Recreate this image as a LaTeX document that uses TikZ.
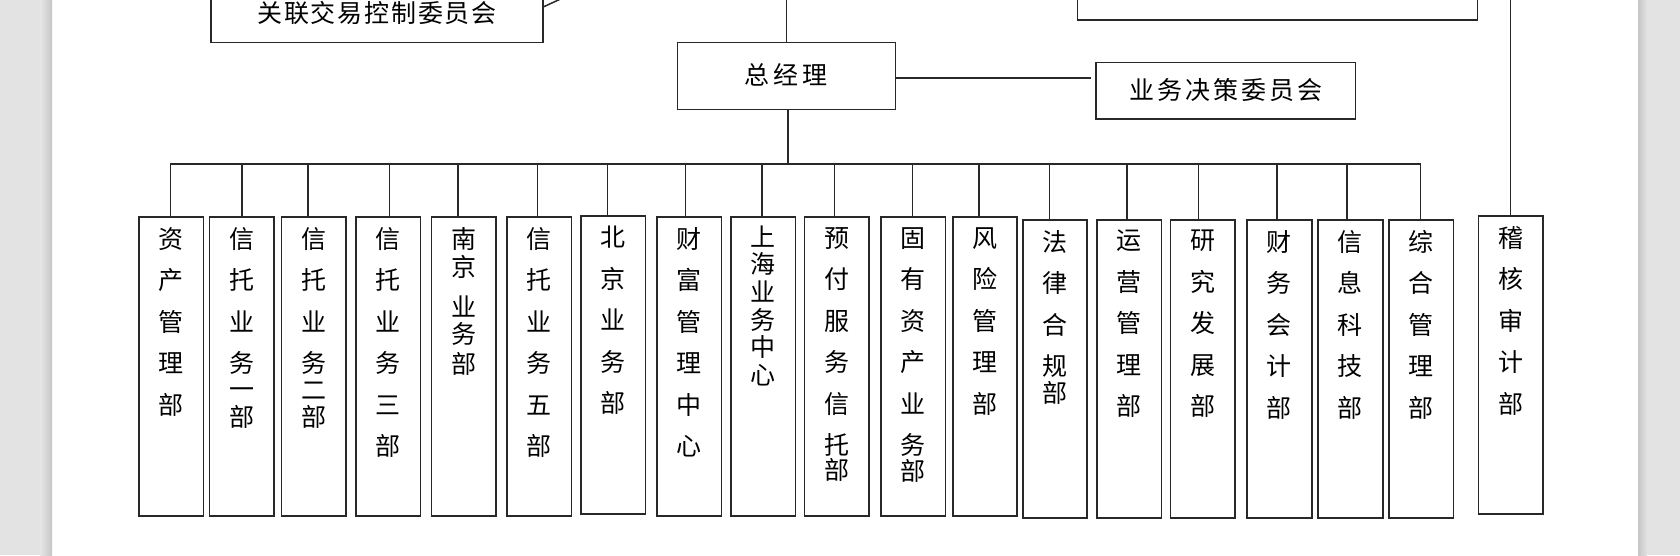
\documentclass[tikz,border=0pt]{standalone}
\usepackage{fontspec}
\newfontfamily\cjk{Noto Sans CJK SC}
\usetikzlibrary{calc}
\definecolor{linec}{RGB}{40,40,40}
\definecolor{pagegray}{RGB}{227,227,227}
\definecolor{shadowgray}{RGB}{198,198,198}
\newcommand\hs{\hspace{1.8pt}}
\begin{document}
\begin{tikzpicture}[x=1pt,y=-1pt,
  bx/.style={draw=linec, line width=1.6pt, inner sep=0pt},
  ln/.style={draw=linec, line width=1.5pt},
  vt/.style={font=\cjk\fontsize{25}{41.5}\selectfont, align=center, inner sep=0pt, anchor=north},
  ht/.style={font=\cjk\fontsize{25}{28}\selectfont, inner sep=0pt},
  dep/.style={bx, minimum width=64.5pt, minimum height=299pt}]
\useasboundingbox (0,0) rectangle (1680,555);
\clip (0,0) rectangle (1680,555);
\fill[white] (0,0) rectangle (1680,555);
% page margins
\fill[pagegray] (0,0) rectangle (40,555);
\shade[left color=pagegray!90!white, right color=shadowgray] (40,0) rectangle (52,555);
\fill[pagegray] (1646,0) rectangle (1680,555);
\shade[left color=shadowgray, right color=pagegray] (1638,0) rectangle (1647,555);

% top boxes
\node[bx, minimum width=332pt, minimum height=58.3pt, ht] (gl) at (377,13.15) {关\hs 联\hs 交\hs 易\hs 控\hs 制\hs 委\hs 员\hs 会};
\node[bx, minimum width=400pt, minimum height=80pt] (tr) at (1277.4,-20.3) {};
\node[bx, minimum width=218.2pt, minimum height=67pt, ht] (zjl) at (786.4,75.8) {\raisebox{3pt}{总\hspace{4pt}经\hspace{4pt}理}};
\node[bx, minimum width=259.3pt, minimum height=56.7pt, ht] (ywjc) at (1225.85,90.65) {\raisebox{2.5pt}{业\hspace{3pt}务\hspace{3pt}决\hspace{3pt}策\hspace{3pt}委\hspace{3pt}员\hspace{3pt}会}};

% department boxes
\node[dep] (b1) at (171.1,366.5) {};
\node[dep] (b2) at (241.6,366.5) {};
\node[dep] (b3) at (313.9,366.5) {};
\node[dep] (b4) at (388.05,366.5) {};
\node[dep] (b5) at (463.55,366.5) {};
\node[dep] (b6) at (539.25,366.5) {};
\node[dep, minimum height=298pt] (b7) at (613.05,365) {};
\node[dep] (b8) at (689.25,366.5) {};
\node[dep] (b9) at (763.4,366.5) {};
\node[dep] (b10) at (836.75,366.5) {};
\node[dep] (b11) at (913.4,366.5) {};
\node[dep] (b12) at (985,366.5) {};
\node[dep, minimum height=298.3pt] (b13) at (1055,368.85) {};
\node[dep, minimum height=298.3pt] (b14) at (1129.1,368.85) {};
\node[dep, minimum height=298.3pt] (b15) at (1202.7,368.85) {};
\node[dep, minimum height=298.3pt] (b16) at (1279.45,368.85) {};
\node[dep, minimum height=298.3pt] (b17) at (1350.45,368.85) {};
\node[dep, minimum height=298.3pt] (b18) at (1421.1,368.85) {};
\node[dep, minimum height=298pt] (b19) at (1510.8,364.7) {};

% vertical texts
\node[vt] (t1) at ([yshift=-11pt]b1.north) {资\\产\\管\\理\\部};
\node[vt] (t2) at ([yshift=-11pt]b2.north) {信\\托\\业\\务\\[-15.5pt]一\\[-13.5pt]部};
\node[vt] (t3) at ([yshift=-11pt]b3.north) {信\\托\\业\\务\\[-14.5pt]二\\[-14.5pt]部};
\node[vt] (t4) at ([yshift=-11pt]b4.north) {信\\托\\业\\务\\三\\部};
\node[vt] (t5) at ([yshift=-11pt]b5.north) {南\\[-13.5pt]京\\[-1.5pt]业\\[-14.5pt]务\\[-11.5pt]部};
\node[vt] (t6) at ([yshift=-11pt]b6.north) {信\\托\\业\\务\\五\\部};
\node[vt] (t7) at ([yshift=-11pt]b7.north) {北\\京\\业\\务\\部};
\node[vt] (t8) at ([yshift=-11pt]b8.north) {财\\富\\管\\理\\中\\心};
\node[vt] (t9) at ([yshift=-9pt]b9.north) {上\\[-13.8pt]海\\[-13.8pt]业\\[-13.8pt]务\\[-13.8pt]中\\[-13.8pt]心};
\node[vt] (t10) at ([yshift=-11pt]b10.north) {预\\付\\服\\务\\信\\托\\[-17pt]部};
\node[vt] (t11) at ([yshift=-11pt]b11.north) {固\\有\\资\\产\\业\\务\\[-15.7pt]部};
\node[vt] (t12) at ([yshift=-11pt]b12.north) {风\\险\\管\\理\\部};
\node[vt] (t13) at ([yshift=-11pt]b13.north) {法\\律\\合\\规\\[-15pt]部};
\node[vt] (t14) at ([yshift=-11pt]b14.north) {运\\营\\管\\理\\部};
\node[vt] (t15) at ([yshift=-11pt]b15.north) {研\\究\\发\\展\\部};
\node[vt] (t16) at ([yshift=-11pt]b16.north) {财\\务\\会\\计\\部};
\node[vt] (t17) at ([yshift=-11pt]b17.north) {信\\息\\科\\技\\部};
\node[vt] (t18) at ([yshift=-11pt]b18.north) {综\\合\\管\\理\\部};
\node[vt] (t19) at ([yshift=-11pt]b19.north) {稽\\核\\审\\计\\部};

% connectors
\coordinate (topm) at (786.5,-5);
\coordinate (topa) at (1510.7,-5);
\coordinate (glt) at (573,-6.7);
\coordinate (glc) at (543.3,6.7);
\draw[ln] (gl.east |- glc) -- (glt);
\draw[ln] (topm) -- (topm |- zjl.north);
\draw[ln] (topa) -- (topa |- b19.north);
\coordinate (h1) at ([yshift=-2pt]zjl.east);
\draw[ln] (h1) -- ([xshift=-4pt]h1 -| ywjc.west);

\coordinate (d1) at (170.4,164);
\coordinate (d2) at (241.8,164);
\coordinate (d3) at (307.9,164);
\coordinate (d4) at (389.6,164);
\coordinate (d5) at (457.9,164);
\coordinate (d6) at (537.5,164);
\coordinate (d7) at (607.5,164);
\coordinate (d8) at (685.4,164);
\coordinate (d9) at (761.8,164);
\coordinate (d10) at (834.3,164);
\coordinate (d11) at (912.5,164);
\coordinate (d12) at (978.9,164);
\coordinate (d13) at (1049.6,164);
\coordinate (d14) at (1126.8,164);
\coordinate (d15) at (1198.3,164);
\coordinate (d16) at (1276.8,164);
\coordinate (d17) at (1347.1,164);
\coordinate (d18) at (1420.7,164);
\draw[ln] ([xshift=1.5pt]zjl.south) -- ([xshift=1.5pt]zjl.south |- d1);
\draw[ln] (d1) -- (d18);
\foreach \i in {1,...,18}{
  \draw[ln] (d\i) -- (d\i |- b\i.north);
}
\end{tikzpicture}
\end{document}
